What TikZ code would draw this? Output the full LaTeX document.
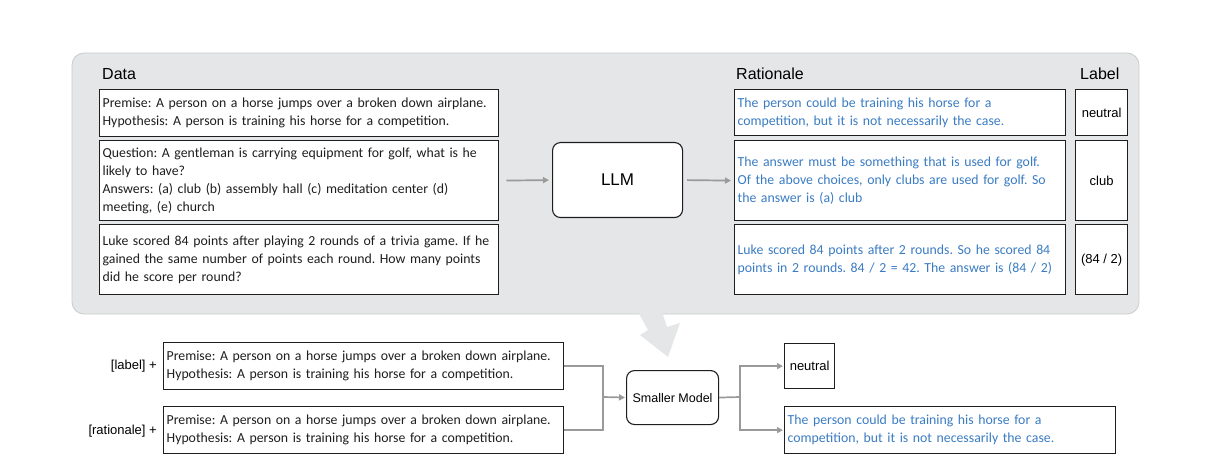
\documentclass[tikz,border=0pt]{standalone}
\usepackage{fontspec}
\setmainfont{Carlito}
\newfontfamily\helv{Liberation Sans}
\usetikzlibrary{positioning,arrows.meta}
\frenchspacing
\definecolor{panelgray}{HTML}{E4E6E7}
\definecolor{panelline}{HTML}{C9CBCD}
\definecolor{ratblue}{HTML}{3A7CC3}
\definecolor{arrowgray}{HTML}{9A9A9A}
\definecolor{txtdark}{HTML}{1E1E1E}
\tikzset{
  txtbox/.style={draw=txtdark, line width=1.3pt, fill=white, align=left,
    inner xsep=3pt, inner ysep=4pt, anchor=north west, text=txtdark,
    font=\fontsize{13.8}{18}\selectfont},
  ratbox/.style={txtbox, text=ratblue},
  lblbox/.style={draw=txtdark, line width=1.3pt, fill=white, align=center,
    inner sep=0pt, anchor=north west, font=\helv\fontsize{13}{14}\selectfont},
  modelbox/.style={draw=txtdark, line width=1.1pt, fill=white, rounded corners=8pt,
    inner sep=0pt, anchor=north west},
  header/.style={anchor=base west, inner sep=0pt, font=\helv\fontsize{16}{18}\selectfont},
  link/.style={draw=arrowgray, line width=1.7pt},
  arr/.style={link, -{Triangle[length=6pt,width=6pt]}}
}
\begin{document}
\begin{tikzpicture}[x=1pt,y=-1pt]
  \useasboundingbox (0,0) rectangle (1209,470);
  % gray panel with tail
  \draw[panelline, fill=panelgray, line width=0.8pt, rounded corners=12pt]
    (72,53) rectangle (1139,314);
  \fill[panelgray] (638,312) -- (648,330) -- (640,335) -- (668,357)
    -- (680,323) -- (667,327) -- (662,312) -- cycle;

  % headers
  \node[header] (hdata) at (102,80) {Data};
  \node[header] (hrat) at (736,80) {Rationale};
  \node[header] (hlbl) at (1080,80) {Label};

  % data column
  \node[txtbox, text width=393pt, minimum height=47pt] (d1) at (99,89)
    {Premise: A person on a horse jumps over a broken down airplane.\\
     Hypothesis: A person is training his horse for a competition.};
  \node[txtbox, text width=393pt, minimum height=80pt] (d2) at (99,140)
    {Question: A gentleman is carrying equipment for golf, what is he\\
     likely to have?\\
     Answers: (a) club (b) assembly hall (c) meditation center (d)\\
     meeting, (e) church};
  \node[txtbox, text width=393pt, minimum height=70pt] (d3) at (99,224)
    {Luke scored 84 points after playing 2 rounds of a trivia game. If he\\
     gained the same number of points each round. How many points\\
     did he score per round?};

  % LLM
  \node[modelbox, minimum width=130pt, minimum height=75pt,
    font=\helv\fontsize{17}{19}\selectfont] (llm) at (552,142) {LLM};

  % rationale column
  \node[ratbox, text width=325pt, minimum height=46pt] (r1) at (734,89)
    {The person could be training his horse for a\\
     competition, but it is not necessarily the case.};
  \node[ratbox, text width=325pt, minimum height=80pt] (r2) at (734,140)
    {The answer must be something that is used for golf.\\
     Of the above choices, only clubs are used for golf. So\\
     the answer is (a) club};
  \node[ratbox, text width=325pt, minimum height=70pt] (r3) at (734,224)
    {Luke scored 84 points after 2 rounds. So he scored 84\\
     points in 2 rounds. 84 / 2 = 42. The answer is (84 / 2)};

  % label column
  \node[lblbox, minimum width=52pt, minimum height=46pt] (l1) at (1075,89) {neutral};
  \node[lblbox, minimum width=52pt, minimum height=80pt] (l2) at (1075,140) {club};
  \node[lblbox, minimum width=52pt, minimum height=70pt] (l3) at (1075,224) {(84 / 2)};

  \draw[arr, shorten <=7pt, shorten >=3pt] (d2.east) -- (llm.west);
  \draw[arr, shorten <=4pt, shorten >=3pt] (llm.east) -- (r2.west);

  % distillation
  \node[txtbox, text width=394pt, minimum height=47pt] (b1) at (163,342)
    {Premise: A person on a horse jumps over a broken down airplane.\\
     Hypothesis: A person is training his horse for a competition.};
  \node[txtbox, text width=394pt, minimum height=47pt] (b2) at (163,406)
    {Premise: A person on a horse jumps over a broken down airplane.\\
     Hypothesis: A person is training his horse for a competition.};
  \node[anchor=east, inner sep=0pt, font=\helv\fontsize{13}{14}\selectfont]
    (tlbl) at (157,366) {[label] +};
  \node[anchor=east, inner sep=0pt, font=\helv\fontsize{13}{14}\selectfont]
    (trat) at (157,431) {[rationale] +};

  \node[modelbox, minimum width=92pt, minimum height=54pt,
    font=\helv\fontsize{12.5}{14}\selectfont] (sm) at (626,370) {Smaller Model};

  \node[lblbox, minimum width=50pt, minimum height=45pt] (n) at (784,343) {neutral};
  \node[ratbox, text width=325pt, minimum height=47pt] (rb) at (784,406)
    {The person could be training his horse for a\\
     competition, but it is not necessarily the case.};

  \coordinate (jin) at (603,397);
  \coordinate (jout) at (740,397);
  \draw[link] (b1.east) -| (jin) |- (b2.east);
  \draw[arr, shorten >=1pt] (jin) -- (sm.west);
  \draw[link] (sm.east) -- (jout);
  \draw[arr, shorten >=1pt] (jout) |- (n.west);
  \draw[arr, shorten >=1pt] (jout) |- (rb.west);
\end{tikzpicture}
\end{document}
